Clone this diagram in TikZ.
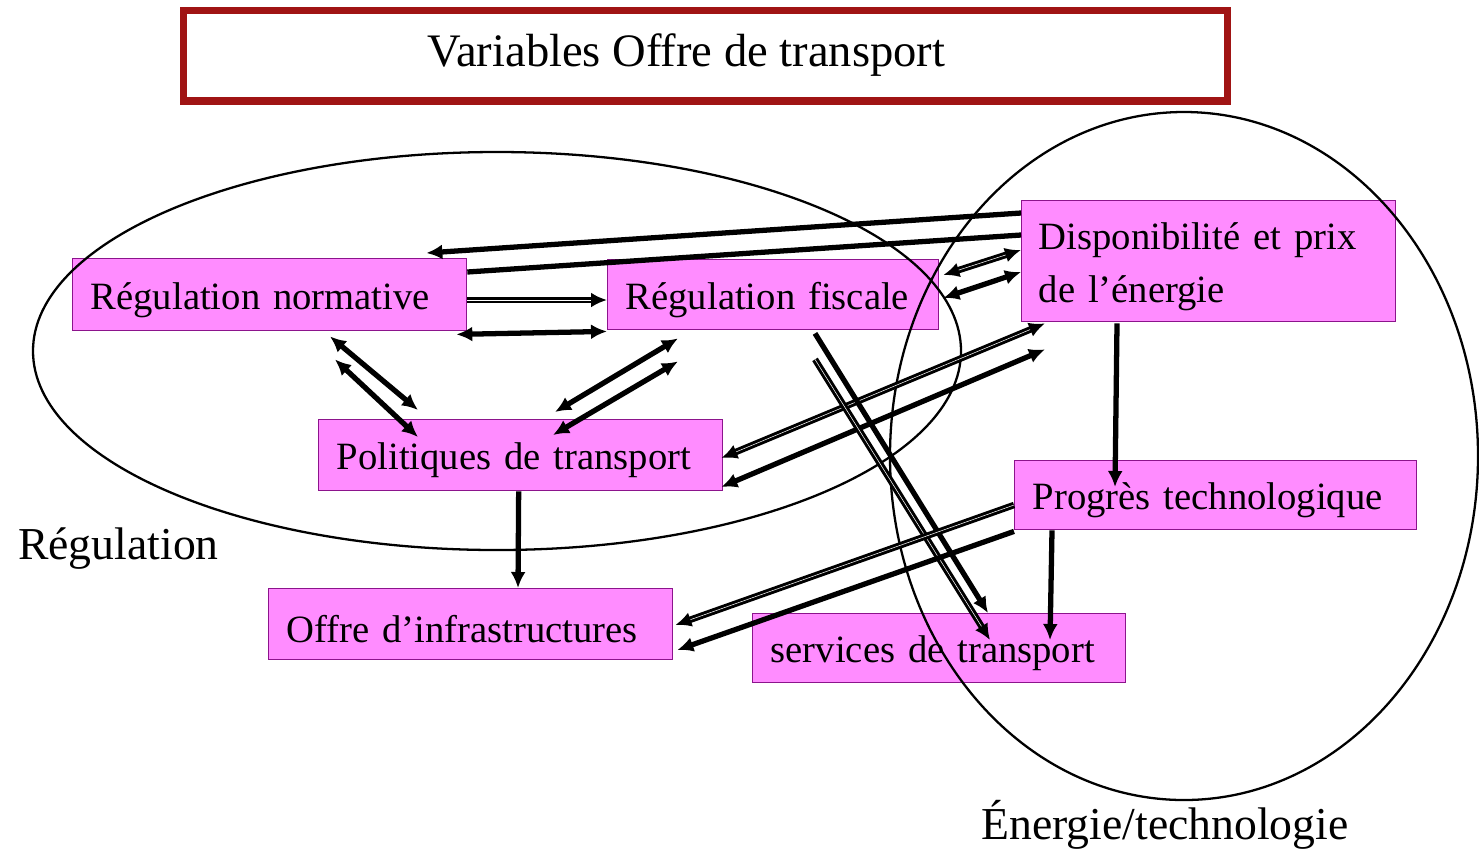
\documentclass[tikz,border=0pt]{standalone}
\usepackage{fontspec}
\setmainfont{Liberation Serif}
\usetikzlibrary{arrows.meta, calc, positioning}
\definecolor{color1}{RGB}{255,140,255}
\definecolor{color2}{RGB}{140,20,140}
\definecolor{color3}{RGB}{160,20,20}

\begin{document}
\begin{tikzpicture}[x=0.02cm,y=-0.02cm,
		box/.style={draw=color2, fill=color1, line width=0.8pt, anchor=north west,
			inner xsep=0.36cm, inner ysep=0.1cm, align=left, text height=0.75cm,
			font=\fontsize{22}{30}\selectfont},
		lbl/.style={font=\fontsize{26}{30}\selectfont},
		arr/.style={line width=3pt, -{Latex[length=0.32cm,width=0.3cm]}},
		both/.style={line width=3pt, {Latex[length=0.32cm,width=0.3cm]}-{Latex[length=0.32cm,width=0.3cm]}},
		dbl/.style={double=white, double distance=0.3pt, line width=1.7pt}]
		\useasboundingbox (0,0) rectangle (1479,850);
		
		% titre
		\node[draw=color3, line width=4pt, minimum width=20.9cm, minimum height=1.82cm, font=\fontsize{26.5}{30}\selectfont] (titre) at (705.5,55.5) {\kern-0.76cm Variables Offre de transport};
		
		% boites
		\node[box, text width=7.16cm, minimum height=1.44cm] (normative) at (72,258) {Régulation normative};
		\node[box, text width=5.9cm, minimum height=1.4cm] (fiscale) at (607,259) {Régulation fiscale};
		\node[box, text width=6.8cm, minimum height=2.42cm, inner xsep=0.34cm] (energie) at (1021,200) {Disponibilité et prix\\de l’énergie};
		\node[box, text width=7.36cm, minimum height=1.42cm] (politiques) at (318,419) {Politiques de transport};
		\node[box, text width=7.32cm, minimum height=1.38cm] (progres) at (1014,460) {Progrès technologique};
		\node[box, text width=7.36cm, minimum height=1.42cm] (infra) at (268,588) {Offre d’infrastructures};
		\node[box, text width=6.74cm, minimum height=1.38cm] (services) at (752,613) {services de transport};
		
		% ensembles
		\draw[line width=1.3pt] (497,351) ellipse [x radius=464, y radius=199];
		\draw[line width=1.3pt] (1184,456) ellipse [x radius=294, y radius=344];
		\node[lbl, anchor=west] (regul) at (12,549) {Régulation};
		\node[lbl] (enertech) at (1165,825) {Énergie/technologie};
		
		% liens
		\draw[arr] ($(energie.north west)+(0,13)$) -- ($(normative.north east)+(-41,-5)$);
		\draw[line width=3pt] ($(normative.north east)+(0,14)$) -- ($(energie.north west)+(0,35)$);
		\draw[arr, dbl] ($(normative.north east)+(0,42)$) -- ($(fiscale.north west)+(0,41)$);
		\draw[both] ($(normative.south east)+(-11,3)$) -- ($(fiscale.south west)+(0,1)$);
		\draw[both, dbl] ($(fiscale.north east)+(4,16)$) -- ($(energie.north west)+(0,50)$);
		\draw[both] ($(fiscale.north east)+(4,39)$) -- ($(energie.north west)+(0,72)$);
		\draw[both] ($(normative.south west)+(258,5)$) -- ($(politiques.north west)+(100,-9)$);
		\draw[both] ($(normative.south west)+(263,28)$) -- ($(politiques.north west)+(100,18)$);
		\draw[both] ($(fiscale.south west)+(71,8)$) -- ($(politiques.north west)+(237,-7)$);
		\draw[both] ($(fiscale.south west)+(71,31)$) -- ($(politiques.north west)+(235,16)$);
		\draw[both, dbl] ($(energie.south west)+(24,1)$) -- ($(politiques.north east)+(-2,39)$);
		\draw[both] ($(energie.south west)+(24,27)$) -- ($(politiques.north east)+(-2,68)$);
		\draw[arr] ($(fiscale.south west)+(208,3)$) -- ($(services.north west)+(236,0)$);
		\draw[arr, dbl] ($(fiscale.south west)+(208,29)$) -- ($(services.north west)+(238,27)$);
		\draw[arr] ($(energie.south west)+(96,1)$) -- ($(progres.north west)+(101,27)$);
		\draw[arr] ($(progres.south west)+(38,0)$) -- ($(services.north west)+(298,27)$);
		\draw[arr, dbl] ($(progres.north west)+(0,45)$) -- ($(infra.north east)+(2,37)$);
		\draw[arr] ($(progres.south west)+(0,1)$) -- ($(infra.north east)+(4,62)$);
		\draw[arr] (politiques.south) ++(-2,0) -- ($(infra.north west)+(250,0)$);
		
\end{tikzpicture}
\end{document}
